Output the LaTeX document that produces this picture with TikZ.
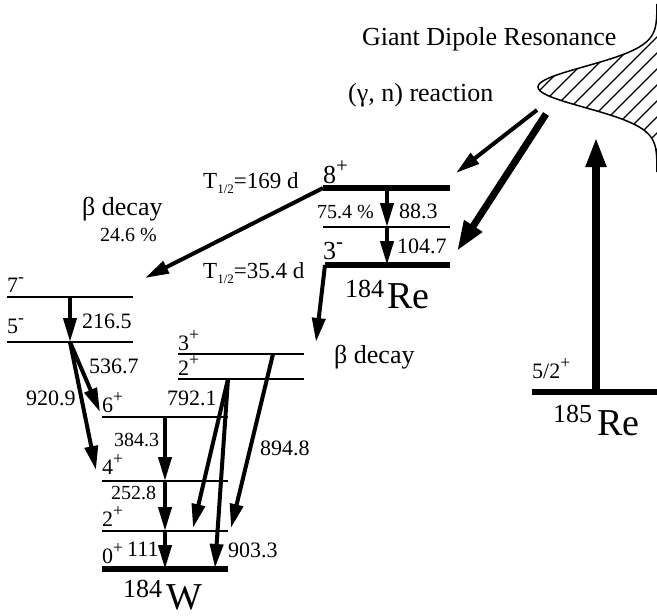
\documentclass[tikz,border=0pt]{standalone}
\usepackage{fontspec}
\setmainfont{Liberation Serif}
\usetikzlibrary{arrows.meta}

\newcommand{\spinlab}[2]{#1\raisebox{0.42em}{\scalebox{0.8}{#2}}}
\newcommand{\halflife}[1]{T\raisebox{-5pt}{\fontsize{13}{13}\selectfont 1/2}=#1}

\begin{document}
\begin{tikzpicture}[x=1pt,y=-1pt,
  lvl/.style={line width=2pt},
  gslvl/.style={line width=6pt},
  trans/.style={line width=4pt,-{Triangle[length=24pt,width=13pt]}},
  bigtrans/.style={line width=7pt,-{Triangle[length=30pt,width=20pt]}},
  txt/.style={font=\fontsize{26}{28}\selectfont,inner sep=0pt,anchor=base west},
  num/.style={font=\fontsize{22}{24}\selectfont,inner sep=0pt,anchor=base west},
  pct/.style={font=\fontsize{20}{22}\selectfont,inner sep=0pt,anchor=base west},
  nuc/.style={font=\fontsize{38}{40}\selectfont,inner sep=0pt,anchor=base west}]
\useasboundingbox (0,0) rectangle (657,616);

% giant dipole resonance
\begin{scope}
\clip plot[domain=4:172,samples=90,smooth] ({657-119*exp(-1*pow((\x-87)/29,2))},\x) -- (700,172) -- (700,4) -- cycle;
\foreach \a in {370,386,...,690}
  \draw[line width=1.1pt] (\a,180) -- ++(180,-180);
\end{scope}
\draw[line width=1.5pt] plot[domain=4:172,samples=90,smooth] ({657-119*exp(-1*pow((\x-87)/29,2))},\x);
\node[txt] (gdr) at (362,45) {Giant Dipole Resonance};
\node[txt] (gn) at (348,101) {(γ, n) reaction};
\coordinate (gdra) at (537,110);
\coordinate (gdrb) at (546,114);

% 185Re
\coordinate (r5l) at (532,392);
\coordinate (r5r) at (660,392);
\coordinate (r5m) at (596,392);
\coordinate (gdrin) at (596,137);
\draw[gslvl] (r5l) -- (r5r);
\draw[line width=8pt,-{Triangle[length=30pt,width=19pt]}] (r5m) -- (gdrin);
\node[num] (s52) at (532,378) {\spinlab{5/2}{+}};
\node[txt] (a185) at (553,422) {185};
\node[nuc] (re185) at (597,435) {Re};

% 184Re
\coordinate (r8l) at (323,188);
\coordinate (r8r) at (450,188);
\coordinate (r8m) at (387,188);
\coordinate (rml) at (323,227);
\coordinate (rmr) at (450,227);
\coordinate (rmm) at (387,227);
\coordinate (r3l) at (325,265);
\coordinate (r3r) at (450,265);
\coordinate (r3m) at (387,265);
\draw[gslvl] (r8l) -- (r8r);
\draw[lvl] (rml) -- (rmr);
\draw[gslvl] (r3l) -- (r3r);
\draw[trans] (r8m) -- (rmm);
\draw[trans] (rmm) -- (r3m);
\draw[trans] (gdra) -- (456,173);
\draw[bigtrans] (gdrb) -- (457,251);
\node[txt] (s8) at (323,183) {\spinlab{8}{+}};
\node[txt] (s3) at (323,259) {\spinlab{3}{-}};
\node[pct] (p754) at (317,218) {75.4 \%};
\node[num] (e883) at (399,218) {88.3};
\node[num] (e1047) at (397,253) {104.7};
\node[txt] (a184r) at (345,297) {184};
\node[nuc] (re184) at (387,308) {Re};

% beta decays
\coordinate (w7tip) at (145,278);
\coordinate (wdtip) at (316,342);
\draw[trans] (r8l) -- (w7tip);
\draw[trans] (r3l) -- (wdtip);
\node[num,font=\fontsize{23}{25}\selectfont] (t169) at (203,188) {\halflife{169 d}};
\node[num,font=\fontsize{23}{25}\selectfont] (t354) at (203,278) {\halflife{35.4 d}};
\node[txt] (bd1) at (82,215) {β decay};
\node[pct] (p246) at (100,241) {24.6 \%};
\node[txt] (bd2) at (334,363) {β decay};

% 184W
\coordinate (w7l) at (7,297);   \coordinate (w7r) at (133,297);
\coordinate (w5l) at (7,342);   \coordinate (w5r) at (133,342);
\coordinate (w7m) at (70,297);  \coordinate (w5m) at (70,342);
\coordinate (w3l) at (178,354); \coordinate (w3r) at (304,354);
\coordinate (wul) at (178,379); \coordinate (wur) at (304,379);
\coordinate (w6l) at (102,417); \coordinate (w6r) at (228,417);
\coordinate (w4l) at (102,481); \coordinate (w4r) at (228,481);
\coordinate (w2l) at (102,531); \coordinate (w2r) at (228,531);
\coordinate (w0l) at (102,569); \coordinate (w0r) at (228,569);
\draw[lvl] (w7l) -- (w7r);
\draw[lvl] (w5l) -- (w5r);
\draw[lvl] (w3l) -- (w3r);
\draw[lvl] (wul) -- (wur);
\draw[lvl] (w6l) -- (w6r);
\draw[lvl] (w4l) -- (w4r);
\draw[lvl] (w2l) -- (w2r);
\draw[gslvl] (w0l) -- (w0r);

\draw[trans] (w7m) -- (w5m);
\draw[trans] (w5m) -- (100,412);
\draw[trans] (w5m) -- (96,470);
\draw[trans] (165,417) -- (165,481);
\draw[trans] (165,481) -- (165,531);
\draw[trans] (165,531) -- (165,569);
\draw[trans] (228,379) -- (193,528);
\draw[trans] (228,379) -- (215,568);
\draw[trans] (273,354) -- (231,528);

\node[num] (s7) at (7,292) {\spinlab{7}{-}};
\node[num] (s5) at (7,333) {\spinlab{5}{-}};
\node[num] (e2165) at (82,328) {216.5};
\node[num] (s3p) at (178,350) {\spinlab{3}{+}};
\node[num] (s2u) at (178,375) {\spinlab{2}{+}};
\node[num] (e5367) at (89,373) {536.7};
\node[num] (e9209) at (26,405) {920.9};
\node[num] (s6) at (102,412) {\spinlab{6}{+}};
\node[num] (e7921) at (167,405) {792.1};
\node[pct] (e3843) at (114,446) {384.3};
\node[num] (e8948) at (260,455) {894.8};
\node[num] (s4) at (102,474) {\spinlab{4}{+}};
\node[pct] (e2528) at (111,499) {252.8};
\node[num] (s2) at (102,526) {\spinlab{2}{+}};
\node[num] (s0) at (102,563) {\spinlab{0}{+}};
\node[num] (e111) at (127,556) {111};
\node[num] (e9033) at (228,557) {903.3};
\node[txt] (a184w) at (123,597) {184};
\node[nuc] (w184) at (166,609) {W};
\end{tikzpicture}
\end{document}
